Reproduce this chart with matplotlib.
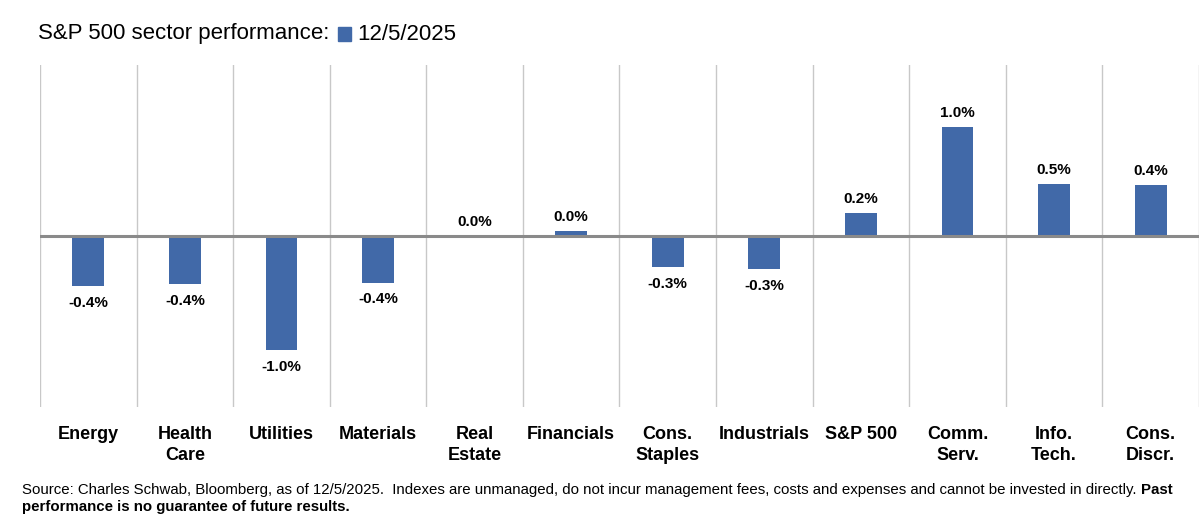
import numpy as np
import matplotlib
matplotlib.use("Agg")
from matplotlib import pyplot as plt
from matplotlib.patches import Rectangle

sectors = ["Energy", "Health\nCare", "Utilities", "Materials", "Real\nEstate",
           "Financials", "Cons.\nStaples", "Industrials", "S&P 500",
           "Comm.\nServ.", "Info.\nTech.", "Cons.\nDiscr."]
returns = [-0.44, -0.42, -1.00, -0.41, 0.00, 0.04, -0.27, -0.29, 0.20, 0.96, 0.46, 0.45]
labels = ["-0.4%", "-0.4%", "-1.0%", "-0.4%", "0.0%", "0.0%", "-0.3%", "-0.3%",
          "0.2%", "1.0%", "0.5%", "0.4%"]
series_name = "12/5/2025"

blue = "#4169a8"
plt.rcParams["font.family"] = ["Liberation Sans", "DejaVu Sans"]

W, H = 1200, 524
fig = plt.figure(figsize=(W / 100, H / 100), dpi=100)
ax = fig.add_axes([40 / W, 1 - 407 / H, 1159 / W, 342 / H])

x = np.arange(len(sectors))
ax.bar(x, returns, width=0.33, color=blue, zorder=2)
ax.set_xlim(-0.5, len(sectors) - 0.5)
ax.set_ylim(-1.5, 1.5)

# category boundaries as vertical gridlines
for b in np.arange(-0.5, len(sectors), 1.0):
    ax.axvline(b, color="#c8c8c8", lw=1, zorder=1)
ax.axhline(0, color="#8a8a8a", lw=2.2, zorder=3)

for xi, v, lab in zip(x, returns, labels):
    if v < 0:
        ax.annotate(lab, (xi, v), xytext=(0, -7), textcoords="offset points",
                    ha="center", va="top", fontsize=11, fontweight="bold")
    else:
        ax.annotate(lab, (xi, v), xytext=(0, 5), textcoords="offset points",
                    ha="center", va="bottom", fontsize=11, fontweight="bold")

ax.set_xticks(x)
ax.set_xticklabels(sectors, fontsize=13, fontweight="bold", linespacing=1.3)
ax.tick_params(axis="x", length=0, pad=14)
ax.set_yticks([])
for s in ax.spines.values():
    s.set_visible(False)

# title with legend square
t = fig.text(38 / W, 1 - 34 / H, "S&P 500 sector performance:", fontsize=16,
             va="center", ha="left")
fig.canvas.draw()
r = fig.canvas.get_renderer()
bb = t.get_window_extent(r)
sq = 13
fig.patches.append(Rectangle(((bb.x1 + 9) / W, (H - 34 - sq / 2) / H), sq / W, sq / H,
                             transform=fig.transFigure, color=blue))
fig.text((bb.x1 + 9 + sq + 6) / W, 1 - 34 / H, series_name, fontsize=16,
         va="center", ha="left")

# footer
src = ("Source: Charles Schwab, Bloomberg, as of 12/5/2025.  Indexes are unmanaged, do not incur "
       "management fees, costs and expenses and cannot be invested in directly. ")
f1 = fig.text(22 / W, 1 - 490 / H, src, fontsize=10.8, va="center", ha="left")
fig.canvas.draw()
bb1 = f1.get_window_extent(r)
fig.text(bb1.x1 / W, 1 - 490 / H, "Past", fontsize=10.8, fontweight="bold", va="center", ha="left")
fig.text(22 / W, 1 - 507 / H, "performance is no guarantee of future results.", fontsize=10.8,
         fontweight="bold", va="center", ha="left")

fig.savefig("out.png", dpi=100)
